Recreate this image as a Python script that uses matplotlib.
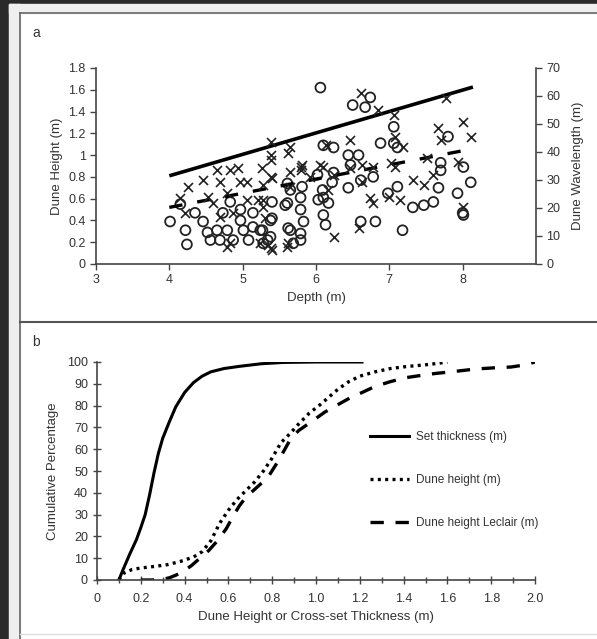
import matplotlib
matplotlib.use("Agg")
import matplotlib.pyplot as plt
from matplotlib.patches import Rectangle
from matplotlib.lines import Line2D
from matplotlib.ticker import MultipleLocator

plt.rcParams['font.family'] = ['Liberation Sans', 'DejaVu Sans']

# ---------------- Panel a data ----------------
height_depth = [4.01, 4.22, 4.24, 4.15, 4.35, 4.46, 4.52, 4.56, 4.65, 4.69, 4.73, 4.83, 4.79, 4.87,
                4.97, 5.01, 5.08, 5.14, 4.97, 5.24, 5.34, 5.38, 5.40, 5.28, 5.61, 5.61, 5.65, 5.69,
                6.06, 6.50, 6.74, 6.67, 6.88, 7.06, 7.06, 7.11, 6.24, 6.10, 6.44, 6.58, 6.47, 6.61,
                6.44, 6.78, 6.98, 7.11, 7.32, 7.47, 7.60, 7.70, 7.70, 7.67, 7.80, 7.93, 8.01, 8.11,
                8.00, 6.61, 6.81, 7.18, 6.10, 6.22, 6.17, 6.24, 6.10, 6.02, 5.81, 5.79, 5.79, 5.83,
                5.79, 5.79, 5.58, 5.62, 6.13, 6.03, 6.09, 5.65, 5.40, 5.27, 5.38, 5.14, 8.01]
dune_height = [0.39, 0.31, 0.18, 0.55, 0.47, 0.39, 0.29, 0.22, 0.31, 0.22, 0.47, 0.57, 0.31, 0.22,
               0.40, 0.31, 0.22, 0.47, 0.50, 0.31, 0.22, 0.40, 0.57, 0.19, 0.56, 0.74, 0.31, 0.19,
               1.62, 1.46, 1.53, 1.44, 1.11, 1.26, 1.11, 1.07, 1.07, 1.09, 1.00, 1.00, 0.91, 0.77,
               0.70, 0.80, 0.65, 0.71, 0.52, 0.54, 0.57, 0.86, 0.93, 0.70, 1.17, 0.65, 0.89, 0.75,
               0.47, 0.39, 0.39, 0.31, 0.45, 0.75, 0.56, 0.84, 0.61, 0.82, 0.71, 0.61, 0.50, 0.39,
               0.28, 0.22, 0.54, 0.33, 0.36, 0.59, 0.68, 0.68, 0.42, 0.31, 0.25, 0.34, 0.45]

wave_depth = [5.39, 4.15, 4.26, 4.22, 4.46, 4.53, 4.65, 4.69, 4.83, 4.79, 4.94, 4.97, 5.06, 5.27,
              5.28, 5.38, 5.38, 5.21, 5.28, 5.35, 5.40, 5.24, 4.83, 4.79, 4.60, 4.69, 4.87, 5.06,
              5.61, 5.62, 5.65, 5.81, 6.06, 5.79, 6.61, 6.85, 7.06, 7.08, 7.19, 6.47, 6.13, 6.63,
              6.47, 6.78, 7.02, 7.08, 7.52, 7.67, 7.70, 7.77, 7.93, 8.01, 8.11, 7.32, 7.47, 7.60,
              6.74, 6.78, 6.63, 6.99, 7.15, 6.58, 6.24, 8.00, 5.92, 6.16, 5.65, 5.38, 5.65, 5.40,
              5.79, 6.09, 6.24, 5.38, 5.62, 5.28, 5.31]
wavelength = [38.9, 23.6, 27.5, 18.2, 30.0, 23.9, 33.6, 29.3, 33.6, 25.4, 34.3, 29.3, 29.3, 34.3,
              28.2, 31.1, 37.1, 22.9, 20.4, 6.8, 5.0, 7.5, 7.5, 6.1, 21.8, 16.8, 18.2, 22.9,
              6.1, 39.6, 32.9, 35.4, 35.4, 33.6, 61.1, 55.0, 53.2, 45.4, 41.8, 44.3, 42.5, 35.4,
              34.3, 34.6, 36.1, 34.6, 37.9, 48.6, 44.3, 59.3, 36.4, 50.7, 45.4, 30.0, 28.2, 31.8,
              23.6, 21.8, 29.3, 23.9, 22.9, 12.9, 9.6, 20.4, 31.1, 26.4, 27.5, 43.6, 41.8, 30.7,
              34.6, 34.6, 31.8, 5.7, 7.5, 22.9, 16.4]

trend_depth = [4.0, 8.14]
trend_wavelength_line = [0.81, 1.625]
trend_depth_dash = [4.0, 8.0]
trend_height_line = [0.52, 1.04]

# ---------------- Panel b data ----------------
set_x = [0.10, 0.12, 0.15, 0.18, 0.20, 0.22, 0.24, 0.26, 0.28, 0.30, 0.33, 0.36, 0.40, 0.44,
         0.48, 0.52, 0.58, 0.65, 0.75, 0.85, 1.00, 1.21]
set_y = [0, 5, 12, 18.5, 24, 30, 39, 49, 58, 65, 72.5, 79.5, 86, 90.5, 93.5, 95.5, 97, 98,
         99.2, 99.8, 100, 100]
dh_x = [0.10, 0.12, 0.16, 0.20, 0.26, 0.32, 0.38, 0.44, 0.48, 0.52, 0.56, 0.60, 0.64, 0.68,
        0.72, 0.76, 0.80, 0.84, 0.88, 0.92, 0.97, 1.02, 1.06, 1.10, 1.15, 1.20, 1.27, 1.34,
        1.42, 1.49, 1.55, 1.60]
dh_y = [0, 3, 4.8, 5.5, 6.2, 7, 8.5, 10.5, 13, 18, 26, 32, 37, 41, 45, 50, 56, 63, 67, 71.5,
        76.6, 80.5, 84, 87.5, 91, 93.5, 95.5, 97, 98, 98.6, 99.3, 100]
lc_x = [0.20, 0.25, 0.30, 0.33, 0.36, 0.39, 0.43, 0.47, 0.51, 0.55, 0.59, 0.62, 0.65, 0.68,
        0.73, 0.78, 0.83, 0.88, 0.92, 0.97, 1.04, 1.11, 1.16, 1.21, 1.27, 1.34, 1.41, 1.49,
        1.55, 1.61, 1.73, 1.81, 1.89, 1.95, 2.0]
lc_y = [0, 0, 0.3, 1, 2.2, 3.7, 6.5, 10, 13.5, 18, 23.5, 29, 34, 38, 42.5, 47, 55, 64, 68.5,
        72, 77, 81, 83.8, 86, 88.8, 91, 92.8, 94, 94.8, 95.4, 96.8, 97.3, 97.7, 98.6, 100]

legend_labels = ['Set thickness (m)', 'Dune height (m)', 'Dune height Leclair (m)']

W, H = 597, 639
fig = plt.figure(figsize=(W / 100, H / 100), dpi=100)
fig.patch.set_facecolor('white')

def fx(px):
    return px / W

def fy(py):
    return 1 - py / H

# background frame decorations
fig.add_artist(Rectangle((0, 0), fx(9), 1, transform=fig.transFigure, color='#2a2a2a', zorder=-5))
fig.add_artist(Rectangle((0, fy(4)), 1, 4 / H, transform=fig.transFigure, color='#2a2a2a', zorder=-5))
fig.add_artist(Rectangle((fx(9), 0), fx(11), fy(4), transform=fig.transFigure, color='#efefef', zorder=-5))
fig.add_artist(Rectangle((fx(9), fy(13)), 1, 9 / H, transform=fig.transFigure, color='#efefef', zorder=-5))
fig.add_artist(Line2D([fx(20), fx(20)], [0, fy(13)], transform=fig.transFigure, color='#666666', lw=1.2))
fig.add_artist(Line2D([fx(20), 1], [fy(13), fy(13)], transform=fig.transFigure, color='#666666', lw=1.2))
fig.add_artist(Line2D([fx(20), 1], [fy(322), fy(322)], transform=fig.transFigure, color='#555555', lw=1.5))
fig.add_artist(Line2D([fx(20), 1], [fy(634), fy(634)], transform=fig.transFigure, color='#dddddd', lw=1))

txt = '#333333'
tick_fs = 9
lab_fs = 9.5

# ---------------- Panel a ----------------
axa = fig.add_axes([fx(96), fy(264), fx(536) - fx(96), (264 - 68) / H])
axa.set_facecolor('none')
axa.scatter(height_depth, dune_height, s=50, facecolors='none', edgecolors='#222222',
            linewidths=1.3, zorder=3)
axa.plot(trend_depth, trend_wavelength_line, color='black', lw=2.6, solid_capstyle='butt', zorder=4)
axa.plot(trend_depth_dash, trend_height_line, color='black', lw=2.4, linestyle=(0, (4, 4.5)), zorder=4)
axa.set_xlim(3, 9)
axa.set_ylim(0, 1.8)
axa.set_xticks([3, 4, 5, 6, 7, 8])
axa.set_yticks([0, 0.2, 0.4, 0.6, 0.8, 1, 1.2, 1.4, 1.6, 1.8])
axa.set_yticklabels(['0', '0.2', '0.4', '0.6', '0.8', '1', '1.2', '1.4', '1.6', '1.8'])
for s in ['top', 'right']:
    axa.spines[s].set_visible(False)
for s in ['left', 'bottom']:
    axa.spines[s].set_color('#444444')
    axa.spines[s].set_linewidth(1.2)
axa.tick_params(direction='out', length=4, width=1, colors='#444444', labelcolor=txt,
                labelsize=tick_fs)
axa.set_xlabel('Depth (m)', fontsize=lab_fs, color=txt, labelpad=4)
axa.set_ylabel('Dune Height (m)', fontsize=lab_fs, color=txt, labelpad=4)

axw = axa.twinx()
axw.scatter(wave_depth, wavelength, marker='x', s=42, color='#222222', linewidths=1.2, zorder=3)
axw.set_ylim(0, 70)
axw.set_yticks(range(0, 71, 10))
for s in ['top', 'left', 'bottom']:
    axw.spines[s].set_visible(False)
axw.spines['right'].set_color('#444444')
axw.spines['right'].set_linewidth(1.2)
axw.tick_params(direction='out', length=4, width=1, colors='#444444', labelcolor=txt,
                labelsize=tick_fs)
axw.set_ylabel('Dune Wavelength (m)', fontsize=lab_fs, color=txt, labelpad=8)

fig.text(fx(32), fy(33), 'a', fontsize=10, color=txt, va='center')

# ---------------- Panel b ----------------
axb = fig.add_axes([fx(97), fy(580), fx(535) - fx(97), (580 - 362) / H])
axb.set_facecolor('none')
axb.plot(set_x, set_y, color='black', lw=2.2, label=legend_labels[0])
axb.plot(dh_x, dh_y, color='black', lw=2.4, linestyle=(0, (0.9, 1.3)), label=legend_labels[1])
axb.plot(lc_x, lc_y, color='black', lw=2.4, linestyle=(0, (4, 3.5)), label=legend_labels[2])
axb.set_xlim(0, 2.0)
axb.set_ylim(0, 100)
axb.set_xticks([0, 0.2, 0.4, 0.6, 0.8, 1.0, 1.2, 1.4, 1.6, 1.8, 2.0])
axb.set_xticklabels(['0', '0.2', '0.4', '0.6', '0.8', '1.0', '1.2', '1.4', '1.6', '1.8', '2.0'])
axb.xaxis.set_minor_locator(MultipleLocator(0.1))
axb.set_yticks(range(0, 101, 10))
for s in ['top', 'right']:
    axb.spines[s].set_visible(False)
for s in ['left', 'bottom']:
    axb.spines[s].set_color('#444444')
    axb.spines[s].set_linewidth(1.2)
axb.tick_params(which='major', direction='inout', length=6, width=1, colors='#444444',
                labelcolor=txt, labelsize=tick_fs)
axb.tick_params(which='minor', direction='inout', length=5, width=1, colors='#444444')
axb.tick_params(axis='x', pad=6)
axb.set_xlabel('Dune Height or Cross-set Thickness (m)', fontsize=lab_fs, color=txt, labelpad=5)
axb.set_ylabel('Cumulative Percentage', fontsize=lab_fs, color=txt, labelpad=6)
leg = axb.legend(loc='upper left', bbox_to_anchor=(0.6, 0.73), frameon=False, fontsize=8.5,
                 handlelength=3.3, labelspacing=2.6, handletextpad=0.6)
for t in leg.get_texts():
    t.set_color(txt)

fig.text(fx(32), fy(342), 'b', fontsize=10, color=txt, va='center')

fig.savefig('out.png', dpi=100)
